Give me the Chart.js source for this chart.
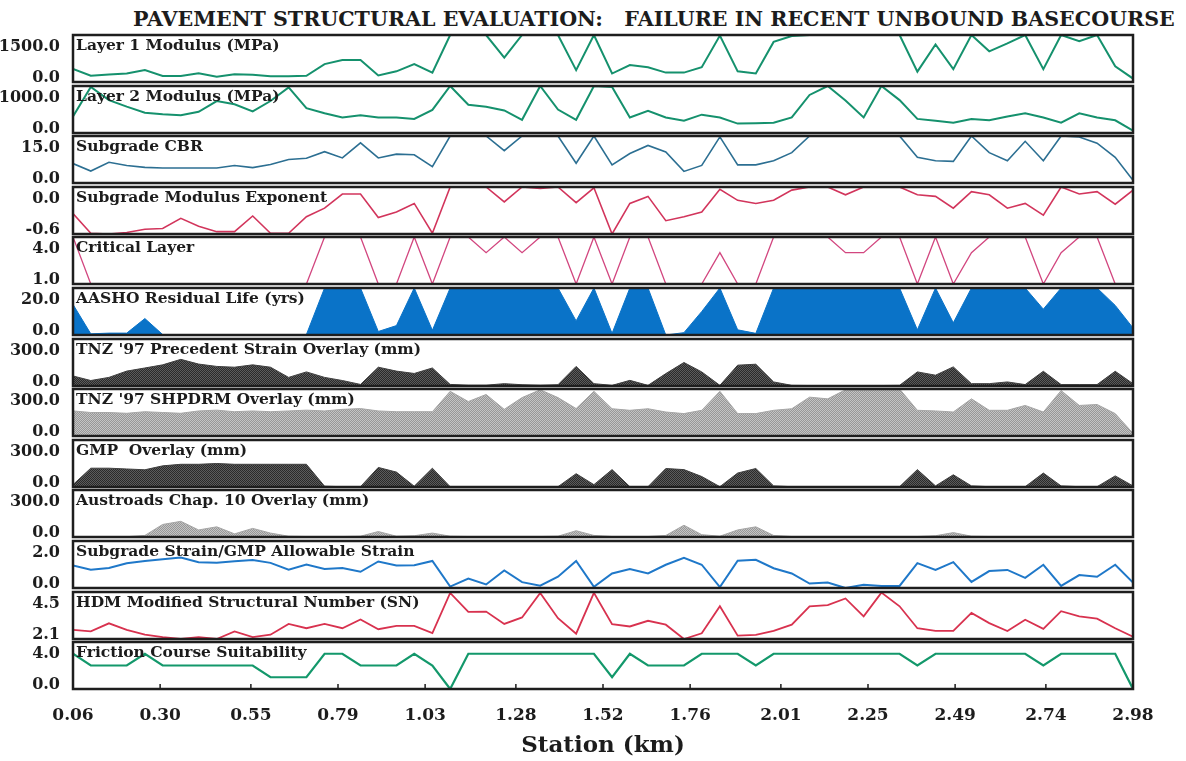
<!DOCTYPE html>
<html>
<head>
<meta charset="utf-8">
<title>Pavement Structural Evaluation</title>
<script src="https://cdn.jsdelivr.net/npm/chart.js@4.4.1/dist/chart.umd.min.js"></script>
<style>
  html, body { margin: 0; padding: 0; background: #fff; }
  #page { position: relative; width: 1186px; height: 761px; overflow: hidden;
          font-family: 'DejaVu Serif', serif; font-weight: bold; color: #1c1c1c; }
  #page canvas { position: absolute; left: 0; }
  .title { position: absolute; left: 133px; top: 7px; font-size: 20.6px; white-space: pre; }
  .panelLabel { position: absolute; left: 76px; font-size: 15.5px; line-height: 16px;
                white-space: pre; pointer-events: none; }
</style>
</head>
<body>
<div id="page">
  <div class="title">PAVEMENT STRUCTURAL EVALUATION:   FAILURE IN RECENT UNBOUND BASECOURSE</div>
</div>
<script>
// station chainage (km)
const stations = [
  0.060, 0.109, 0.159, 0.208, 0.258, 0.307, 0.357, 0.406, 0.456, 0.505,
  0.555, 0.604, 0.654, 0.703, 0.753, 0.802, 0.852, 0.901, 0.951, 1.000,
  1.050, 1.099, 1.149, 1.198, 1.248, 1.297, 1.347, 1.396, 1.446, 1.495,
  1.545, 1.594, 1.644, 1.693, 1.743, 1.792, 1.842, 1.891, 1.941, 1.990,
  2.040, 2.089, 2.139, 2.188, 2.238, 2.287, 2.337, 2.386, 2.436, 2.485,
  2.535, 2.584, 2.634, 2.683, 2.733, 2.782, 2.832, 2.881, 2.931, 2.980
];
const tickLabels = ['0.06', '0.30', '0.55', '0.79', '1.03', '1.28', '1.52',
                    '1.76', '2.01', '2.25', '2.49', '2.74', '2.98'];

const panelNames = [
  'Layer 1 Modulus (MPa)',
  'Layer 2 Modulus (MPa)',
  'Subgrade CBR',
  'Subgrade Modulus Exponent',
  'Critical Layer',
  'AASHO Residual Life (yrs)',
  "TNZ '97 Precedent Strain Overlay (mm)",
  "TNZ '97 SHPDRM Overlay (mm)",
  'GMP  Overlay (mm)',
  'Austroads Chap. 10 Overlay (mm)',
  'Subgrade Strain/GMP Allowable Strain',
  'HDM Modified Structural Number (SN)',
  'Friction Course Suitability'
];
const axisTop    = [1500, 1000, 15, 0.0, 4, 20, 300, 300, 300, 300, 2, 4.5, 4];
const axisBottom = [0, 0, 0, -0.6, 1, 0, 0, 0, 0, 0, 0, 2.1, 0];

const layer1Modulus = [
  420, 200, 240, 270, 380, 195, 195, 280, 165, 250,
  230, 185, 185, 200, 570, 700, 700, 210, 340, 570,
  300, 1500, 1500, 1500, 780, 1500, 1500, 1500, 380, 1500,
  270, 540, 470, 300, 300, 470, 1480, 340, 270, 1280,
  1470, 1500, 1500, 1500, 1500, 1500, 1500, 330, 1200, 410,
  1500, 980, 1230, 1500, 410, 1500, 1300, 1500, 500, 110
];
const layer2Modulus = [
  350, 980, 700, 560, 430, 400, 380, 450, 680, 610,
  460, 680, 970, 530, 420, 330, 380, 330, 330, 300,
  490, 1000, 600, 560, 480, 280, 1000, 500, 280, 1000,
  980, 330, 470, 330, 260, 390, 330, 200, 210, 220,
  330, 810, 1000, 690, 330, 1000, 700, 300, 260, 220,
  300, 270, 350, 420, 330, 220, 420, 330, 270, 50
];
const subgradeCBR = [
  6.2, 3.8, 6.6, 5.6, 5.0, 4.8, 4.8, 4.8, 4.8, 5.6,
  4.9, 5.9, 7.5, 7.9, 10.0, 8.0, 12.8, 8.0, 9.2, 9.0,
  5.2, 15.0, 15.0, 15.0, 10.3, 15.0, 15.0, 15.0, 6.3, 15.0,
  5.8, 9.4, 12.0, 9.9, 3.7, 5.6, 14.7, 5.8, 5.8, 7.1,
  9.7, 15.0, 15.0, 15.0, 15.0, 15.0, 15.0, 8.2, 7.1, 6.9,
  15.0, 9.7, 7.1, 13.3, 7.1, 15.0, 14.7, 12.7, 8.2, 0.9
];
const modulusExponent = [
  -0.34, -0.59, -0.60, -0.58, -0.54, -0.53, -0.40, -0.50, -0.57, -0.57,
  -0.37, -0.59, -0.59, -0.38, -0.27, -0.09, -0.09, -0.39, -0.32, -0.21,
  -0.59, 0.00, 0.00, 0.00, -0.19, 0.00, -0.02, 0.00, -0.20, -0.01,
  -0.60, -0.21, -0.12, -0.43, -0.38, -0.32, -0.03, -0.17, -0.21, -0.17,
  -0.04, 0.00, 0.00, -0.10, 0.00, 0.00, 0.00, -0.10, -0.12, -0.27,
  -0.06, -0.10, -0.27, -0.21, -0.36, 0.00, -0.09, -0.06, -0.22, -0.04
];
const criticalLayer = [
  4, 1, 1, 1, 1, 1, 1, 1, 1, 1,
  1, 1, 1, 1, 4, 4, 4, 1, 1, 4,
  1, 4, 4, 3, 4, 3, 4, 4, 1, 4,
  1, 4, 4, 1, 1, 1, 3, 1, 1, 4,
  4, 4, 4, 3, 3, 4, 4, 1, 4, 1,
  3, 4, 4, 4, 1, 3, 4, 4, 1, 1
];
const aashoLife = [
  13, 0.5, 0.8, 0.8, 7, 0.2, 0.2, 0.2, 0.2, 0.2,
  0.2, 0.2, 0.2, 0.2, 20, 20, 20, 1.5, 4, 20,
  2, 20, 20, 20, 20, 20, 20, 20, 6, 20,
  0.7, 20, 20, 0, 1, 10, 20, 2.2, 0.7, 20,
  20, 20, 20, 20, 20, 20, 20, 2.2, 20, 5.2,
  20, 20, 20, 20, 11, 20, 20, 20, 12.6, 3
];
const precedentStrain = [
  64, 35, 55, 95, 115, 135, 170, 140, 125, 120,
  135, 120, 55, 90, 55, 35, 10, 120, 95, 80,
  115, 10, 5, 5, 15, 8, 5, 8, 125, 15,
  4, 36, 4, 79, 150, 90, 4, 133, 139, 26,
  4, 3, 3, 3, 3, 3, 4, 90, 69, 122,
  15, 15, 26, 9, 94, 9, 9, 9, 94, 15
];
const shpdrmOverlay = [
  160, 150, 150, 145, 155, 150, 145, 160, 165, 155,
  160, 155, 160, 165, 160, 170, 175, 160, 155, 155,
  155, 285, 220, 265, 170, 245, 295, 245, 175, 285,
  174, 164, 174, 153, 143, 164, 285, 143, 143, 164,
  174, 248, 237, 295, 290, 300, 300, 164, 160, 153,
  237, 164, 164, 195, 153, 290, 195, 201, 143, 17
];
const gmpOverlay = [
  15, 120, 120, 115, 110, 135, 145, 145, 150, 145,
  145, 145, 145, 145, 5, 2, 2, 125, 95, 5,
  120, 2, 2, 2, 2, 2, 2, 2, 85, 15,
  111, 2, 2, 118, 111, 67, 2, 89, 118, 7,
  2, 2, 2, 2, 2, 2, 2, 111, 7, 78,
  7, 2, 2, 2, 89, 7, 2, 2, 71, 7
];
const austroadsOverlay = [
  2, 2, 2, 2, 10, 80, 100, 45, 65, 20,
  55, 25, 5, 3, 3, 3, 5, 35, 5, 8,
  25, 5, 3, 3, 3, 3, 3, 5, 40, 10,
  3, 3, 3, 10, 75, 15, 5, 45, 65, 10,
  3, 3, 3, 3, 3, 3, 3, 3, 8, 28,
  5, 3, 3, 3, 3, 3, 3, 3, 3, 3
];
const strainRatio = [
  0.96, 0.78, 0.85, 1.05, 1.15, 1.22, 1.30, 1.10, 1.07, 1.14,
  1.19, 1.07, 0.78, 1.00, 0.81, 0.85, 0.69, 1.13, 0.96, 0.97,
  1.15, 0.06, 0.40, 0.15, 0.75, 0.25, 0.10, 0.48, 1.15, 0.05,
  0.62, 0.81, 0.62, 0.99, 1.28, 0.99, 0.04, 1.16, 1.20, 0.84,
  0.62, 0.19, 0.23, 0.00, 0.14, 0.09, 0.09, 1.06, 0.77, 1.10,
  0.26, 0.72, 0.77, 0.43, 0.99, 0.09, 0.55, 0.48, 0.99, 0.23
];
const structuralNumber = [
  2.57, 2.49, 2.90, 2.57, 2.32, 2.20, 2.10, 2.20, 2.10, 2.49,
  2.20, 2.32, 2.87, 2.65, 2.87, 2.65, 3.10, 2.60, 2.77, 2.77,
  2.40, 4.45, 3.49, 3.50, 2.87, 3.20, 4.45, 3.16, 2.37, 4.46,
  2.86, 2.74, 3.03, 2.83, 2.10, 2.39, 3.77, 2.27, 2.31, 2.51,
  2.83, 3.77, 3.83, 4.17, 3.26, 4.47, 3.77, 2.65, 2.51, 2.51,
  3.43, 2.91, 2.51, 3.08, 2.62, 3.52, 3.26, 3.14, 2.65, 2.22
];
const frictionSuitability = [
  3, 2, 2, 2, 3, 2, 2, 2, 2, 2,
  2, 1, 1, 1, 3, 3, 2, 2, 2, 3,
  2, 0, 3, 3, 3, 3, 3, 3, 3, 3,
  1, 3, 2, 2, 2, 3, 3, 3, 2, 3,
  3, 3, 3, 3, 3, 3, 3, 2, 3, 3,
  3, 3, 3, 3, 2, 3, 3, 3, 3, 0
];

// fine dotted texture like the scanned grey fills
function stipple(dark, light) {
  const c = document.createElement('canvas');
  c.width = 2; c.height = 2;
  const g = c.getContext('2d');
  g.fillStyle = light; g.fillRect(0, 0, 2, 2);
  g.fillStyle = dark; g.fillRect(0, 0, 1, 1); g.fillRect(1, 1, 1, 1);
  return g.createPattern(c, 'repeat');
}
const darkGrey = stipple('#2a2a2a', '#5c5c5c');
const lightGrey = stipple('#979797', '#c4c4c4');

const panels = [
  { values: layer1Modulus,       color: '#15916d', width: 2 },
  { values: layer2Modulus,       color: '#15916d', width: 2 },
  { values: subgradeCBR,         color: '#2c6f92', width: 1.6 },
  { values: modulusExponent,     color: '#d2355c', width: 1.6 },
  { values: criticalLayer,       color: '#d2467f', width: 1.3 },
  { values: aashoLife,           color: '#0a73c8', width: 1, fill: '#0a73c8' },
  { values: precedentStrain,     color: '#404040', width: 1, fill: darkGrey },
  { values: shpdrmOverlay,       color: '#a6a6a6', width: 1, fill: lightGrey },
  { values: gmpOverlay,          color: '#404040', width: 1, fill: darkGrey },
  { values: austroadsOverlay,    color: '#a6a6a6', width: 1, fill: lightGrey },
  { values: strainRatio,         color: '#1f78c9', width: 2 },
  { values: structuralNumber,    color: '#d8324f', width: 1.8 },
  { values: frictionSuitability, color: '#13986b', width: 2.2 }
];

const textColor = '#1c1c1c';
const serif = 'DejaVu Serif';

// panel box, plus short inward tick marks on the station axis
const frame = {
  id: 'frame',
  afterDatasetsDraw(chart) {
    const a = chart.chartArea;
    const ctx = chart.ctx;
    ctx.save();
    ctx.strokeStyle = '#1e1e1e';
    ctx.lineWidth = 2.5;
    ctx.strokeRect(a.left, a.top, a.right - a.left, a.bottom - a.top);
    const x = chart.scales.x;
    if (x.options.display) {
      ctx.lineWidth = 1.5;
      ctx.beginPath();
      x.ticks.forEach(t => {
        const px = x.getPixelForValue(t.value);
        ctx.moveTo(px, a.bottom);
        ctx.lineTo(px, a.bottom - 5);
      });
      ctx.stroke();
    }
    ctx.restore();
  }
};

const page = document.getElementById('page');

panels.forEach((p, k) => {
  const last = k === panels.length - 1;
  const panelTop = Math.round(35 + 50.6 * k);
  const top = panelTop - 4;
  const height = last ? 761 - top : 55;
  const yMin = axisBottom[k];
  const yMax = axisTop[k];

  const canvas = document.createElement('canvas');
  canvas.width = 1186;
  canvas.height = height;
  canvas.style.top = top + 'px';
  page.appendChild(canvas);

  const label = document.createElement('div');
  label.className = 'panelLabel';
  label.style.top = (panelTop + 2) + 'px';
  label.textContent = panelNames[k];

  const xScale = {
    type: 'linear',
    min: stations[0],
    max: stations[stations.length - 1],
    display: last
  };
  if (last) {
    Object.assign(xScale, {
      afterBuildTicks: s => { s.ticks = tickLabels.map(t => ({ value: parseFloat(t) })); },
      afterFit: s => { s.height = height - 4 - 47; },
      ticks: {
        callback: (v, i) => tickLabels[i],
        font: { family: serif, size: 17, weight: 'bold' },
        color: textColor, padding: 8, maxRotation: 0, autoSkip: false
      },
      grid: { display: false },
      border: { display: false },
      title: {
        display: true, text: 'Station (km)', color: textColor,
        font: { family: serif, size: 23, weight: 'bold' },
        padding: { top: 0, bottom: 1 }
      }
    });
  }

  new Chart(canvas, {
    type: 'line',
    data: {
      datasets: [{
        data: stations.map((s, i) => ({ x: s, y: p.values[i] })),
        borderColor: p.color,
        borderWidth: p.width,
        backgroundColor: p.fill || p.color,
        fill: p.fill ? 'start' : false,
        pointRadius: 0,
        tension: 0
      }]
    },
    options: {
      responsive: false,
      animation: false,
      events: [],
      layout: { padding: { left: 0, right: 53, top: 4, bottom: last ? 0 : 4 } },
      plugins: { legend: { display: false }, tooltip: { enabled: false } },
      scales: {
        x: xScale,
        y: {
          min: yMin,
          max: yMax,
          afterBuildTicks: s => {
            s.ticks = [{ value: yMin + 0.09 * (yMax - yMin) }, { value: yMin + 0.74 * (yMax - yMin) }];
          },
          afterFit: s => {
            s.width = 73;
            // labels sit inside the panel height, so no extra room above/below
            s.paddingTop = 0;
            s.paddingBottom = 0;
          },
          ticks: {
            callback: (v, i) => (i === 0 ? yMin : yMax).toFixed(1),
            font: { family: serif, size: 16, weight: 'bold' },
            color: textColor,
            padding: 5
          },
          grid: { display: false },
          border: { display: false }
        }
      }
    },
    plugins: [frame]
  });

  page.appendChild(label);
});
</script>
</body>
</html>
